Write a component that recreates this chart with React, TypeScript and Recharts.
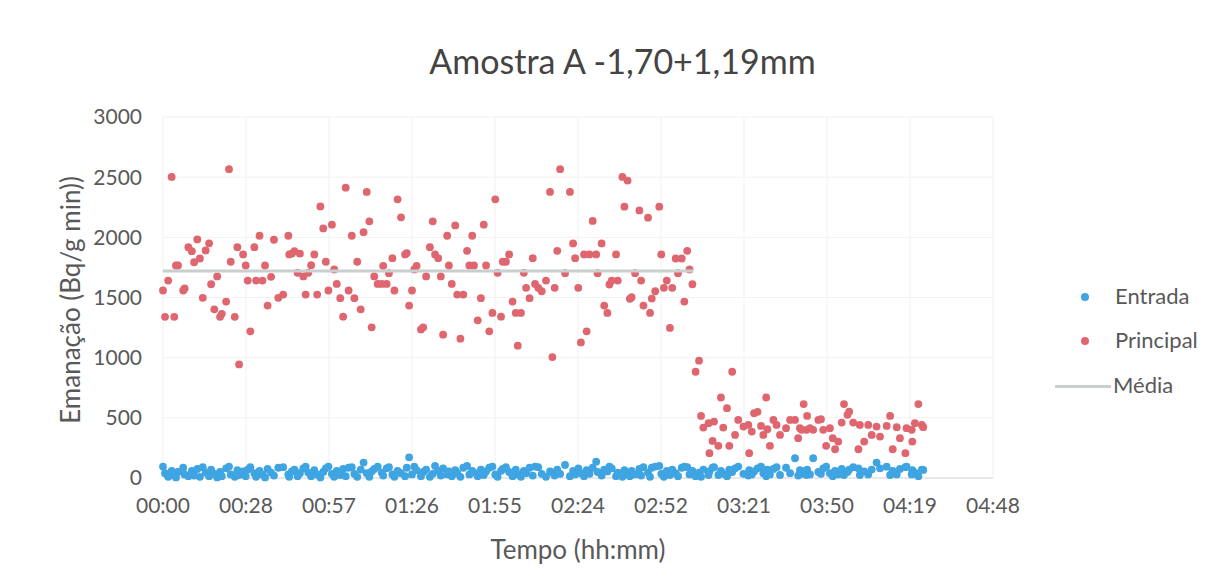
import { CartesianGrid, Scatter, ScatterChart, XAxis, YAxis } from 'recharts';

// minutes since start of measurement
const sampleMinutes = [
  0, 0.7, 1.8, 3.0, 3.9, 4.5, 5.2, 7.0, 7.5, 8.8,
  10.0, 10.8, 11.9, 12.8, 13.8, 14.8, 16.0, 16.7, 17.8, 18.8,
  19.8, 20.4, 21.9, 22.9, 23.5, 24.9, 25.8, 26.4, 27.8, 28.7,
  29.4, 30.3, 31.7, 32.3, 33.5, 34.5, 35.4, 36.3, 37.5, 38.5,
  40.0, 41.7, 43.5, 43.8, 44.7, 45.6, 46.7, 47.5, 48.7, 49.5,
  50.4, 51.4, 52.5, 53.5, 54.6, 55.6, 56.5, 57.4, 58.6, 59.4,
  60.3, 61.5, 62.5, 63.4, 64.4, 65.5, 66.4, 67.4, 68.6, 69.6,
  70.7, 71.6, 72.4, 73.3, 74.5, 75.9, 76.4, 77.6, 78.4, 79.6,
  80.3, 81.4, 82.6, 84.0, 84.6, 85.4, 86.4, 87.2, 88.0, 89.5,
  90.3, 91.3, 92.6, 93.6, 94.4, 95.5, 96.4, 97.2, 98.6, 99.2,
  100.2, 101.4, 102.1, 103.2, 104.2, 105.5, 106.3, 107.3, 107.9, 109.2,
  110.3, 111.3, 112.1, 113.2, 114.3, 115.3, 116.1, 117.3, 117.9, 119.0,
  120.1, 121.3, 122.4, 123.1, 124.2, 125.2, 126.0, 127.2, 128.3, 129.1,
  130.2, 131.4, 132.9, 134.3, 135.1, 135.9, 136.8, 137.8, 139.5, 141.2,
  142.3, 143.0, 144.1, 145.0, 146.1, 147.0, 148.0, 149.1, 150.3, 150.8,
  152.2, 153.1, 154.2, 154.9, 155.7, 157.2, 157.8, 159.4, 160.1, 161.2,
  162.0, 162.6, 163.8, 165.3, 165.9, 166.7, 168.3, 169.0, 169.6, 170.8,
  172.2, 172.9, 173.8, 174.8, 175.9, 176.7, 177.9, 178.7, 180.0, 180.9,
  181.9, 182.7, 183.7, 184.8, 186.0, 186.7, 187.5, 189.3, 189.6, 190.7,
  191.2, 192.7, 193.6, 194.4, 195.7, 196.5, 197.5, 198.5, 199.6, 201.4,
  203.1, 203.4, 204.3, 205.1, 206.3, 207.5, 208.3, 209.3, 209.7, 210.6,
  211.8, 212.9, 214.1, 216.2, 217.6, 219.3, 220.4, 221.0, 221.6, 222.3,
  223.3, 223.5, 224.5, 225.6, 227.4, 228.3, 229.1, 230.1, 231.4, 232.4,
  233.2, 234.3, 235.5, 236.3, 237.5, 238.1, 239.5, 241.3, 241.8, 243.3,
  244.7, 245.9, 247.6, 248.8, 251.1, 252.3, 253.2, 254.6, 255.7, 257.6,
  258.0, 259.8, 260.0, 260.9, 262.1, 263.3, 263.8,
];

const principal = [
  1558, 1339, 1641, 2502, 1339, 1766, 1766, 1558, 1575, 1918,
  1885, 1793, 1983, 1824, 1497, 1891, 1950, 1610, 1402, 1675,
  1339, 1364, 1466, 2566, 1797, 1339, 1918, 944, 1858, 1766,
  1641, 1219, 1918, 1641, 2013, 1641, 1766, 1433, 1672, 1980,
  1497, 1524, 2013, 1858, 1864, 1885, 1705, 1864, 1675, 1524,
  1705, 1769, 1858, 1524, 2257, 2074, 1797, 1558, 2105, 1733,
  1613, 1494, 1341, 2413, 1558, 2013, 1494, 1797, 1402, 2043,
  2377, 2133, 1252, 1675, 1613, 1613, 1763, 1613, 1702, 1827,
  1558, 2316, 2166, 1858, 1869, 1433, 1558, 1733, 1763, 1235,
  1252, 1675, 1918, 2133, 1858, 1827, 1675, 1191, 2013, 1766,
  1613, 2099, 1524, 1158, 1524, 1888, 1766, 2013, 1766, 1310,
  1494, 2105, 1766, 1219, 1372, 2316, 1705, 1341, 1797, 1797,
  1858, 1466, 1372, 1100, 1372, 1705, 1580, 1494, 1827, 1613,
  1580, 1552, 1641, 2377, 1005, 1580, 1888, 2566, 1702, 2377,
  1949, 1827, 1580, 1127, 1858, 1219, 1858, 2136, 1858, 1702,
  1949, 1433, 1372, 1608, 1641, 1858, 1641, 2502, 2255, 2472,
  1489, 1502, 1702, 2224, 1641, 1433, 2163, 1372, 1491, 1552,
  2255, 1858, 1580, 1641, 1247, 1580, 1824, 1702, 1824, 1466,
  1888, 1733, 1610, 883, 975, 516, 419, 456, 206, 308,
  469, 267, 669, 419, 580, 267, 883, 358, 483, 427,
  441, 206, 386, 539, 550, 433, 358, 669, 405, 267,
  483, 441, 358, 414, 483, 483, 331, 414, 400, 614,
  400, 516, 414, 400, 483, 489, 400, 267, 414, 331,
  239, 303, 461, 614, 525, 552, 461, 239, 441, 303,
  441, 358, 427, 344, 433, 516, 239, 422, 331, 206,
  414, 400, 303, 456, 614, 441, 422,
];

const entrada = [
  95, 40, 10, 60, 25, 5, 50, 85, 30, 15,
  60, 20, 75, 10, 90, 45, 15, 70, 35, 5,
  50, 15, 80, 95, 30, 10, 65, 25, 55, 15,
  70, 90, 40, 10, 60, 30, 5, 75, 45, 20,
  85, 90, 30, 10, 55, 70, 15, 40, 80, 95,
  45, 15, 65, 30, 5, 50, 80, 95, 35, 10,
  60, 25, 75, 15, 85, 90, 35, 10, 70, 128,
  40, 10, 55, 75, 95, 45, 20, 80, 90, 30,
  10, 60, 40, 15, 85, 172, 30, 95, 65, 15,
  50, 70, 10, 35, 100, 60, 20, 80, 30, 55,
  15, 65, 40, 10, 85, 100, 30, 60, 45, 15,
  70, 25, 55, 85, 95, 30, 10, 60, 75, 90,
  50, 15, 70, 30, 10, 60, 40, 85, 20, 95,
  90, 35, 10, 55, 45, 20, 70, 35, 108, 15,
  60, 30, 80, 40, 15, 65, 35, 85, 136, 50,
  20, 70, 55, 95, 80, 15, 45, 10, 65, 30,
  15, 60, 30, 75, 20, 90, 45, 10, 85, 95,
  100, 35, 10, 60, 25, 70, 40, 15, 85, 95,
  90, 30, 60, 15, 45, 10, 70, 25, 55, 85,
  90, 25, 60, 35, 15, 70, 50, 80, 95, 35,
  20, 65, 30, 55, 80, 95, 40, 15, 70, 30,
  75, 90, 25, 85, 40, 164, 20, 65, 35, 55,
  25, 70, 30, 164, 50, 35, 80, 95, 40, 15,
  60, 30, 75, 25, 50, 70, 90, 80, 25, 55,
  30, 70, 128, 80, 94, 25, 60, 30, 75, 90,
  94, 30, 65, 45, 15, 70, 67,
];

// mean of the first (stable) stretch
const mediaMinutes = [0, 184];
const mediaValues = [1720, 1720];

const xTicks = [0, 28.8, 57.6, 86.4, 115.2, 144, 172.8, 201.6, 230.4, 259.2, 288];
const xTickLabels = ['00:00', '00:28', '00:57', '01:26', '01:55', '02:24', '02:52', '03:21', '03:50', '04:19', '04:48'];
const yTicks = [0, 500, 1000, 1500, 2000, 2500, 3000];

const FONT = 'Lato, "Open Sans", sans-serif';
const BLUE = '#3EA4E2';
const RED = '#DF666E';
const GRAY = '#C9CECE';
const TEXT = '#595959';

function dot(color: string) {
  return (props: any) => <circle cx={props.cx} cy={props.cy} r={3.9} fill={color} />;
}

export default function App() {
  const entradaData = sampleMinutes.map((t, i) => ({ t, v: entrada[i] }));
  const principalData = sampleMinutes.map((t, i) => ({ t, v: principal[i] }));
  const mediaData = mediaMinutes.map((t, i) => ({ t, v: mediaValues[i] }));
  const tickStyle = { fill: TEXT, fontSize: 21, fontFamily: FONT };

  return (
    <div style={{ position: 'absolute', left: 0, top: 0, width: 1205, height: 586, background: '#fff', fontFamily: FONT }}>
      <ScatterChart width={1205} height={586} margin={{ top: 117, right: 212, bottom: 68, left: 0 }}>
        <CartesianGrid stroke="#F1F1F1" />
        <XAxis
          type="number"
          dataKey="t"
          domain={[0, 288]}
          ticks={xTicks}
          tickFormatter={(v: number) => xTickLabels[xTicks.indexOf(v)] ?? ''}
          tick={tickStyle}
          tickLine={false}
          tickSize={0}
          tickMargin={20}
          axisLine={{ stroke: '#D9D9D9' }}
          height={40}
          interval={0}
        />
        <YAxis
          type="number"
          dataKey="v"
          domain={[0, 3000]}
          ticks={yTicks}
          tick={tickStyle}
          tickLine={false}
          axisLine={false}
          tickSize={0}
          tickMargin={21}
          width={163}
        />
        <Scatter name="Entrada" data={entradaData} shape={dot(BLUE)} isAnimationActive={false} />
        <Scatter name="Principal" data={principalData} shape={dot(RED)} isAnimationActive={false} />
        <Scatter
          name="Média"
          data={mediaData}
          line={{ stroke: GRAY, strokeWidth: 3 }}
          shape={() => <g />}
          isAnimationActive={false}
        />
      </ScatterChart>

      <div style={{ position: 'absolute', left: 0, width: 1205, top: 40, textAlign: 'center', fontSize: 34, color: '#444', paddingLeft: 40, boxSizing: 'border-box' }}>
        Amostra A -1,70+1,19mm
      </div>
      <div style={{ position: 'absolute', left: 163, width: 830, top: 533, textAlign: 'center', fontSize: 26, color: TEXT }}>
        Tempo (hh:mm)
      </div>
      <div
        style={{
          position: 'absolute',
          left: 70,
          top: 300,
          transform: 'translate(-50%, -50%) rotate(-90deg)',
          whiteSpace: 'nowrap',
          fontSize: 26,
          color: TEXT,
        }}
      >
        Emanação (Bq/g min))
      </div>

      <div style={{ position: 'absolute', left: 1050, top: 282, fontSize: 22, color: TEXT }}>
        <div style={{ position: 'absolute', top: 0, left: 0, width: 160, height: 30 }}>
          <span style={{ position: 'absolute', left: 31, top: 11, width: 8, height: 8, borderRadius: 4, background: BLUE }} />
          <span style={{ position: 'absolute', left: 65, top: 0 }}>Entrada</span>
        </div>
        <div style={{ position: 'absolute', top: 44, left: 0, width: 160, height: 30 }}>
          <span style={{ position: 'absolute', left: 31, top: 11, width: 8, height: 8, borderRadius: 4, background: RED }} />
          <span style={{ position: 'absolute', left: 65, top: 0 }}>Principal</span>
        </div>
        <div style={{ position: 'absolute', top: 89, left: 0, width: 160, height: 30 }}>
          <span style={{ position: 'absolute', left: 5, top: 14, width: 56, height: 3, background: GRAY }} />
          <span style={{ position: 'absolute', left: 63, top: 0 }}>Média</span>
        </div>
      </div>
    </div>
  );
}
